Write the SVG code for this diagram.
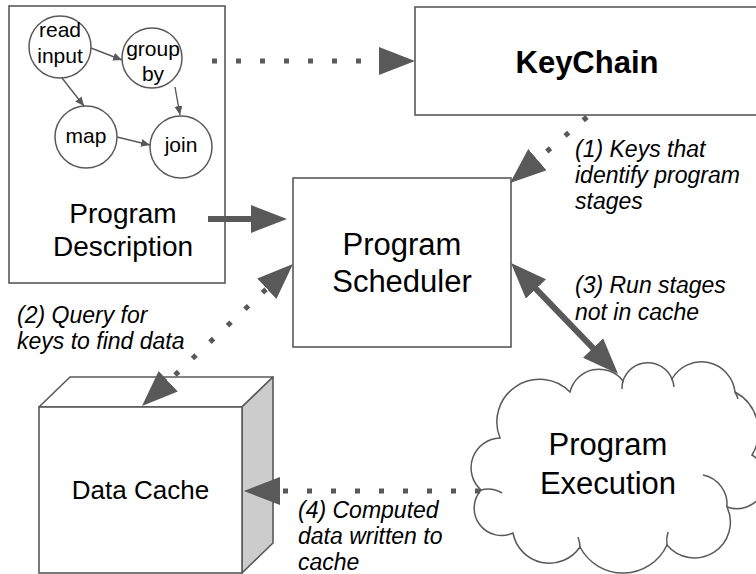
<svg xmlns="http://www.w3.org/2000/svg" width="756" height="574" viewBox="0 0 756 574">
<style>
.box{fill:#fff;stroke:#595959;stroke-width:1.6}
.circ{fill:#fff;stroke:#595959;stroke-width:1.5}
.t{font-family:"Liberation Sans",Arial,sans-serif;fill:#000;text-anchor:middle}
.lab{font-family:"Liberation Sans",Arial,sans-serif;font-style:italic;font-size:23px;fill:#000}
.thin{stroke:#595959;stroke-width:1.4;fill:none;marker-end:url(#sm)}
.dot{stroke:#595959;stroke-width:5;fill:none;stroke-dasharray:5 19}
.solid{stroke:#595959;stroke-width:6;fill:none}
</style>
<defs>
<marker id="ah" viewBox="0 0 36 28" refX="8" refY="14" markerWidth="36" markerHeight="28" markerUnits="userSpaceOnUse" orient="auto-start-reverse"><path d="M0,0 L36,14 L0,28 Z" fill="#595959"/></marker>
<marker id="sm" viewBox="0 0 9 8" refX="9" refY="4" markerWidth="9" markerHeight="8" markerUnits="userSpaceOnUse" orient="auto"><path d="M0,0 L9,4 L0,8 Z" fill="#595959"/></marker>
</defs>
<rect width="756" height="574" fill="#fff"/>

<g id="program-description">
<rect class="box" x="9" y="6" width="216" height="277"/>
<g id="read-input"><circle class="circ" cx="60" cy="47" r="31"/><text class="t" font-size="21" x="60" y="37">read</text><text class="t" font-size="21" x="60" y="63">input</text></g>
<g id="group-by"><circle class="circ" cx="152" cy="58" r="30"/><text class="t" font-size="21" x="153" y="56">group</text><text class="t" font-size="21" x="153" y="81">by</text></g>
<g id="map"><circle class="circ" cx="86" cy="137" r="31"/><text class="t" font-size="21" x="86" y="143">map</text></g>
<g id="join"><circle class="circ" cx="181" cy="147" r="31"/><text class="t" font-size="21" x="181" y="152">join</text></g>
<g id="inner-edges">
<line class="thin" x1="91" y1="48" x2="122" y2="60"/>
<line class="thin" x1="62" y1="78" x2="84" y2="106"/>
<line class="thin" x1="175" y1="87" x2="180" y2="115"/>
<line class="thin" x1="117" y1="137" x2="150" y2="145"/>
</g>
<text class="t" font-size="28" x="123" y="223">Program</text>
<text class="t" font-size="28" x="123" y="256">Description</text>
</g>

<g id="keychain">
<rect class="box" x="415" y="7" width="344" height="108"/>
<text class="t" font-size="31" font-weight="bold" x="587" y="73">KeyChain</text>
</g>

<g id="program-scheduler">
<rect class="box" x="293" y="178" width="218" height="169"/>
<text class="t" font-size="31" x="402" y="255">Program</text>
<text class="t" font-size="31" x="402" y="292">Scheduler</text>
</g>

<g id="data-cache">
<polygon points="39,407 70,377 273,377 242,407" fill="#fff" stroke="#595959" stroke-width="1.6" stroke-linejoin="round"/>
<polygon points="242,407 273,377 273,543 242,573" fill="#cccccc" stroke="#595959" stroke-width="1.6" stroke-linejoin="round"/>
<rect class="box" x="39" y="407" width="203" height="166"/>
<text class="t" font-size="26" x="140.5" y="499">Data Cache</text>
</g>

<g id="program-execution">
<path d="M500,438 A42.7,42.7 0 0 1 570,392 A30,30 0 0 1 623,381 A26,26 0 0 1 672,379 A33.8,33.8 0 0 1 735,392 A45,45 0 0 1 752,455 A29,29 0 0 1 727,507 A35.8,35.8 0 0 1 667,545 A48.5,48.5 0 0 1 580,547 A37,37 0 0 1 513,533 A27.4,27.4 0 0 1 481,490 A29.8,29.8 0 0 1 500,438 Z" fill="#fff" stroke="#595959" stroke-width="1.5"/>
<g fill="none" stroke="#595959" stroke-width="1.5">
<path d="M703,475 A30,30 0 0 1 727,507"/>
<path d="M481,490 A28,28 0 0 1 502,493"/>
<path d="M667,545 A30,30 0 0 1 668,532"/>
<path d="M580,547 A30,30 0 0 0 578,537"/>
<path d="M623,381 A26,26 0 0 0 622,389"/>
<path d="M672,379 A26,26 0 0 1 674,387"/>
<path d="M735,392 A30,30 0 0 1 738,399"/>
</g>
<text class="t" font-size="31" x="608" y="455">Program</text>
<text class="t" font-size="31" x="608" y="494">Execution</text>
</g>

<g id="connectors">
<line class="dot" x1="212" y1="61" x2="387" y2="61" marker-end="url(#ah)"/>
<line class="solid" x1="208" y1="219" x2="259" y2="219" marker-end="url(#ah)"/>
<line class="dot" x1="587" y1="117" x2="531.3" y2="164.8" marker-end="url(#ah)"/>
<line class="dot" x1="272.6" y1="283.2" x2="162.4" y2="386.8" stroke-dashoffset="15" marker-start="url(#ah)" marker-end="url(#ah)"/>
<line class="solid" x1="530.4" y1="283.2" x2="598.6" y2="353.8" marker-start="url(#ah)" marker-end="url(#ah)"/>
<line class="dot" x1="480" y1="491" x2="272" y2="491" marker-end="url(#ah)"/>
</g>

<g id="labels">
<text class="lab" x="575" y="157">(1) Keys that</text>
<text class="lab" x="575" y="183">identify program</text>
<text class="lab" x="575" y="209">stages</text>
<text class="lab" x="17" y="323">(2) Query for</text>
<text class="lab" x="17" y="349">keys to find data</text>
<text class="lab" x="575" y="293">(3) Run stages</text>
<text class="lab" x="575" y="320">not in cache</text>
<text class="lab" x="298" y="518">(4) Computed</text>
<text class="lab" x="298" y="544">data written to</text>
<text class="lab" x="298" y="570">cache</text>
</g>
</svg>
